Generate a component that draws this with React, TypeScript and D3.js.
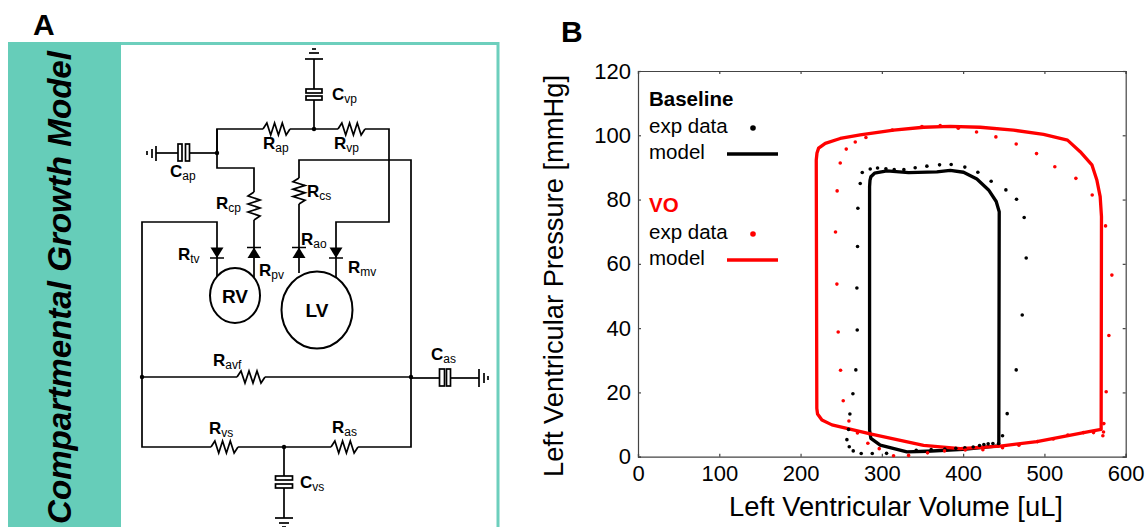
import React, { useRef, useEffect } from 'react';
import * as d3 from 'd3';

// pressure-volume data, [volume uL, pressure mmHg]
const baselineExp = [
  [275.9, 88.4], [285.7, 89.5], [294.7, 89.8], [305, 89.6], [315.2, 89.3], [327.1, 89.3], [341, 89.9], [355.4, 90.4],
  [371, 90.8], [385.3, 90.9], [402.1, 90.1], [418.1, 88.5], [434.5, 85.7], [452.6, 83], [465.7, 80.1], [475.1, 74.4],
  [477.6, 61.8], [472.7, 44.1], [465.3, 27], [454.2, 13.4], [448.5, 6.5], [443.6, 4.1], [436.6, 4.1], [430.8, 4],
  [425.5, 3.8], [420.2, 3.5], [412.4, 3], [402.1, 2.8], [391, 2.6], [377.5, 2.4], [360.7, 2.2], [342.3, 2],
  [305.8, 1.05], [288.2, 1], [274.6, 1], [264.8, 1.8], [259.9, 3.1], [257, 5.3], [259, 8.5], [260.7, 13.3],
  [264.4, 19.6], [268, 27], [269.7, 39.4], [269.3, 52.5], [270.1, 65.4], [270.5, 77.3], [273.4, 85],
];
const voExp = [
  [243, 69.9], [245, 82.7], [248.8, 91.4], [256.2, 95.7], [267.3, 97.9], [280.4, 99.3], [312.8, 101.6], [349.3, 102.7],
  [371.8, 103], [394, 102.2], [416.5, 101], [440.3, 99.5], [465.3, 97.3], [490.3, 94.3], [512.8, 90.2], [538.7, 86.6],
  [558.8, 81.4], [575.2, 71.8], [583, 56.5], [579.3, 37.7], [576, 20.2], [573.1, 10.3], [572.7, 7.7], [571.9, 6.5],
  [560.4, 7.5], [548, 7.5], [528.8, 6.7], [511, 5.5], [491.5, 4.7], [468.6, 3.6], [448.5, 2.8], [424.3, 2.2],
  [402.6, 2.1], [377.1, 1.8], [356.2, 1.2], [332.9, 0.4], [314.4, 0.3], [296.8, 2.5], [282.8, 4.2], [270, 7.4],
  [259.5, 11.1], [252.5, 17.4], [249.2, 26.9], [246.3, 38.8], [244.7, 53.7],
];
const baselineModel = [
  [284.9, 8.3], [284.9, 84], [285.4, 86], [286.5, 87.1], [291, 88.2], [306.2, 88.9], [332.9, 88.4], [367.7, 88.6],
  [384.1, 89.1], [400.5, 88.5], [416.9, 86.4], [431.3, 83], [440.7, 79.4], [444.4, 76.2], [443.9, 4.2],
  [443.6, 3.4], [400.5, 2.3], [355.4, 1.7], [330.8, 1.5], [298, 3.6], [286.5, 5.7],
];
const voModel = [
  [220, 15], [219.3, 92.3], [220.2, 94.5], [222.2, 96], [230.4, 97.5], [248.8, 99], [273.4, 100.1], [314.4, 101.6],
  [351.3, 102.5], [384.1, 102.8], [421, 102.5], [462, 101.6], [498.9, 100.3], [528.4, 98.5], [544, 94.9],
  [558.4, 90.8], [564.5, 86.1], [568.6, 80.9], [570.2, 74.7], [569.8, 8.5], [556.3, 7.9], [527.6, 6.5],
  [490.7, 4.7], [445.6, 3.3], [396.4, 2.5], [351.3, 3.5], [285.7, 7.1], [238.6, 9.9], [226.3, 11.4], [220.9, 13.3],
];
const xTicks = [0, 100, 200, 300, 400, 500, 600];
const yTicks = [0, 20, 40, 60, 80, 100, 120];

// circuit schematic of panel A, in page pixels
const wires = [
  [[314, 59], [314, 89]], [[314, 100], [314, 129]],
  [[217, 153], [217, 129], [263, 129]], [[290, 129], [338, 129]],
  [[365, 129], [389, 129], [389, 222], [336, 222], [336, 258]], [[336, 258], [336, 277]],
  [[217, 129], [217, 168], [254, 168], [254, 192]], [[254, 220], [254, 277]],
  [[156, 153], [178, 153]], [[189, 153], [217, 153]],
  [[299, 204], [299, 273]], [[299, 178], [299, 160], [411, 160], [411, 447], [358, 447]],
  [[217, 278], [217, 222], [142, 222], [142, 447], [211, 447]],
  [[238, 447], [331, 447]], [[142, 377], [237, 377]], [[265, 377], [411, 377]],
  [[411, 378], [439, 378]], [[451, 378], [479, 378]],
  [[284, 447], [284, 476]], [[284, 488], [284, 518]],
  [[305, 59], [323, 59]], [[309, 53], [319, 53]], [[312, 49], [316, 49]],
  [[156, 146], [156, 161]], [[152, 149], [152, 158]], [[147, 151], [147, 155]],
  [[479, 369], [479, 387]], [[484, 373], [484, 383]], [[488, 376], [488, 380]],
  [[275, 518], [293, 518]], [[279, 523], [289, 523]], [[282, 527], [286, 527]],
];
const resistors = [
  [[263, 129], [290, 129]], [[338, 129], [365, 129]], [[237, 377], [265, 377]],
  [[211, 447], [238, 447]], [[331, 447], [358, 447]], [[254, 192], [254, 220]], [[299, 178], [299, 204]],
];
const capPlates = [
  [306, 89, 16, 4], [306, 96, 16, 4], [178, 144, 4, 17], [185.5, 144, 4, 17],
  [439.5, 369, 5, 17], [446.5, 369, 4, 17], [275.5, 476, 17, 4], [275.5, 484, 17, 4],
];
const junctions = [[314, 129], [217, 153], [142, 377], [411, 377], [284, 447]];
const diodes = [
  { x: 217, dir: 'down' }, { x: 336, dir: 'down' }, { x: 254, dir: 'up' }, { x: 299, dir: 'up' },
];
const labels = [
  ['C', 'vp', 332, 100], ['R', 'ap', 263, 149], ['R', 'vp', 334, 149], ['C', 'ap', 170, 177],
  ['R', 'cs', 307, 197], ['R', 'cp', 216, 209], ['R', 'ao', 301, 245], ['R', 'tv', 178, 260],
  ['R', 'pv', 259, 276], ['R', 'mv', 348, 273], ['R', 'avf', 213, 366], ['C', 'as', 431, 360],
  ['R', 'vs', 209, 434], ['R', 'as', 332, 433], ['C', 'vs', 300, 488],
];

const font = '"Liberation Sans", Arial, sans-serif';
const plot = { left: 638, right: 1125.7, top: 71, bottom: 456.7 };

function App() {
  const container = useRef(null);

  useEffect(() => {
    const svg = d3.select(container.current);
    svg.selectAll('*').remove();
    svg.attr('font-family', font);

    // panel A
    const teal = '#66cdb9';
    svg.append('rect').attr('x', 8).attr('y', 42).attr('width', 113).attr('height', 485).attr('fill', teal);
    svg.append('path')
      .attr('d', 'M121,43.5H498V527')
      .attr('fill', 'none')
      .attr('stroke', '#6dcfbd')
      .attr('stroke-width', 3);
    svg.append('text')
      .attr('transform', 'translate(71,524) rotate(-90)')
      .attr('font-size', 33.5)
      .attr('font-weight', 'bold')
      .attr('font-style', 'italic')
      .attr('textLength', 473)
      .attr('lengthAdjust', 'spacingAndGlyphs')
      .text('Compartmental Growth Model');
    svg.append('text').attr('x', 33).attr('y', 35).attr('font-size', 30).attr('font-weight', 'bold').text('A');
    svg.append('text').attr('x', 561).attr('y', 42).attr('font-size', 30).attr('font-weight', 'bold').text('B');

    const line = d3.line();
    const circuit = svg.append('g').attr('fill', 'none').attr('stroke', '#000').attr('stroke-width', 1.7);
    circuit.selectAll('path.wire').data(wires).join('path').attr('class', 'wire').attr('d', (d) => line(d));
    circuit.selectAll('path.res').data(resistors).join('path').attr('class', 'res')
      .attr('d', ([a, b]) => {
        // zigzag between the two end points
        const t = d3.scaleLinear().domain([0, 7]);
        const xs = t.copy().range([a[0], b[0]]);
        const ys = t.copy().range([a[1], b[1]]);
        const horiz = a[1] === b[1];
        const pts = d3.range(8).map((i) => {
          const off = i === 0 || i === 7 ? 0 : i % 2 ? -6 : 6;
          return horiz ? [xs(i), ys(i) + off] : [xs(i) + off, ys(i)];
        });
        return line(pts);
      });
    circuit.selectAll('rect').data(capPlates).join('rect')
      .attr('x', (d) => d[0]).attr('y', (d) => d[1]).attr('width', (d) => d[2]).attr('height', (d) => d[3])
      .attr('fill', '#fff');
    circuit.append('ellipse').attr('cx', 235).attr('cy', 295.5).attr('rx', 25).attr('ry', 27.5).attr('fill', '#fff').attr('stroke-width', 2);
    circuit.append('ellipse').attr('cx', 317).attr('cy', 310).attr('rx', 35.5).attr('ry', 38.5).attr('fill', '#fff').attr('stroke-width', 2);

    svg.append('g').selectAll('circle').data(junctions).join('circle')
      .attr('cx', (d) => d[0]).attr('cy', (d) => d[1]).attr('r', 2.2);

    diodes.forEach((d) => {
      const top = 247.5;
      const bot = 258;
      const [base, tip] = d.dir === 'down' ? [top, bot] : [bot, top];
      svg.append('path')
        .attr('d', line([[d.x - 6.5, base], [d.x + 6.5, base], [d.x, tip]]) + 'Z');
      svg.append('path')
        .attr('d', line([[d.x - 7, tip], [d.x + 7, tip]]))
        .attr('stroke', '#000').attr('stroke-width', 1.5);
    });

    svg.append('text').attr('x', 235).attr('y', 303).attr('text-anchor', 'middle').attr('font-size', 19).attr('font-weight', 'bold').text('RV');
    svg.append('text').attr('x', 317).attr('y', 317).attr('text-anchor', 'middle').attr('font-size', 19).attr('font-weight', 'bold').text('LV');

    labels.forEach(([main, sub, x, y]) => {
      const t = svg.append('text').attr('x', x).attr('y', y).attr('font-size', 17).attr('font-weight', 'bold').attr('stroke', 'none');
      t.append('tspan').text(main);
      t.append('tspan').attr('dy', 3).attr('font-size', 12).attr('font-weight', 'normal').text(sub);
    });

    // panel B
    const x = d3.scaleLinear().domain([0, 600]).range([plot.left, plot.right]);
    const y = d3.scaleLinear().domain([0, 120]).range([plot.bottom, plot.top]);
    const axisColor = '#444';
    const g = svg.append('g');

    const bottom = g.append('g').attr('transform', `translate(0,${plot.bottom})`)
      .call(d3.axisBottom(x).tickValues(xTicks).tickSize(-3).tickPadding(9));
    const left = g.append('g').attr('transform', `translate(${plot.left},0)`)
      .call(d3.axisLeft(y).tickValues(yTicks).tickSize(-3).tickPadding(7));
    const top = g.append('g').attr('transform', `translate(0,${plot.top})`)
      .call(d3.axisTop(x).tickValues(xTicks).tickSize(-3).tickFormat(() => ''));
    const right = g.append('g').attr('transform', `translate(${plot.right},0)`)
      .call(d3.axisRight(y).tickValues(yTicks).tickSize(-3).tickFormat(() => ''));
    [bottom, left, top, right].forEach((a) => {
      a.selectAll('path,line').attr('stroke', axisColor).attr('stroke-width', 1.2);
      a.selectAll('text').attr('font-family', font).attr('font-size', 22).attr('fill', '#000');
    });

    g.append('text').attr('x', 896).attr('y', 516).attr('text-anchor', 'middle').attr('font-size', 27.3)
      .text('Left Ventricular Volume [uL]');
    g.append('text').attr('transform', 'translate(563,276) rotate(-90)').attr('text-anchor', 'middle').attr('font-size', 27.3)
      .text('Left Ventricular Pressure [mmHg]');

    const loop = d3.line()
      .x((d) => x(d[0]))
      .y((d) => y(d[1]))
      .curve(d3.curveLinearClosed);

    g.append('path').datum(baselineModel).attr('d', loop).attr('fill', 'none').attr('stroke', '#000').attr('stroke-width', 3.3).attr('stroke-linejoin', 'round');
    g.append('path').datum(voModel).attr('d', loop).attr('fill', 'none').attr('stroke', '#f00').attr('stroke-width', 3.3).attr('stroke-linejoin', 'round');

    g.append('g').selectAll('circle').data(baselineExp).join('circle')
      .attr('cx', (d) => x(d[0])).attr('cy', (d) => y(d[1])).attr('r', 1.8).attr('fill', '#000');
    g.append('g').selectAll('circle').data(voExp).join('circle')
      .attr('cx', (d) => x(d[0])).attr('cy', (d) => y(d[1])).attr('r', 1.8).attr('fill', '#f00');

    // legend
    const legend = g.append('g').attr('font-size', 20.5);
    [
      { name: 'Baseline', color: '#000', y: 106 },
      { name: 'VO', color: '#f00', y: 212 },
    ].forEach((s) => {
      legend.append('text').attr('x', 649).attr('y', s.y).attr('font-weight', 'bold').attr('fill', s.color).text(s.name);
      legend.append('text').attr('x', 649).attr('y', s.y + 26.5).text('exp data');
      legend.append('circle').attr('cx', 753).attr('cy', s.y + 22).attr('r', 2.8).attr('fill', s.color);
      legend.append('text').attr('x', 649).attr('y', s.y + 53).text('model');
      legend.append('line').attr('x1', 727).attr('x2', 778).attr('y1', s.y + 48).attr('y2', s.y + 48)
        .attr('stroke', s.color).attr('stroke-width', 3.5);
    });
  }, []);

  return <svg ref={container} width={1146} height={527} style={{ position: 'absolute', left: 0, top: 0 }} />;
}

export default App;
